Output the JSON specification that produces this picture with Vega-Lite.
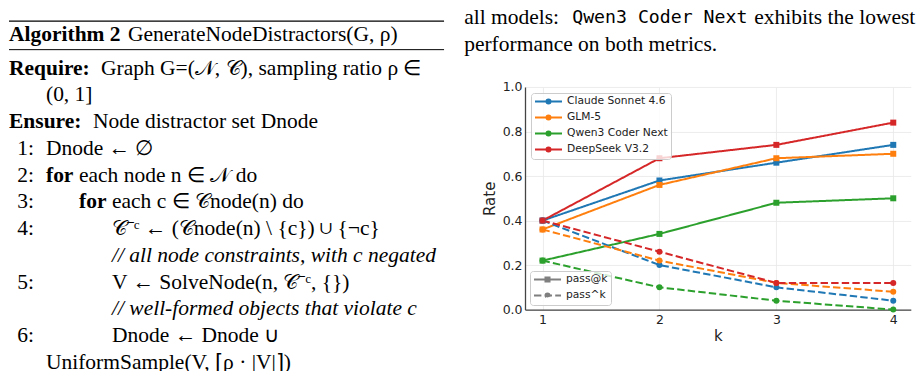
{
  "$schema": "https://vega.github.io/schema/vega-lite/v6.json",
  "padding": {"left": 8, "top": 7, "right": 5, "bottom": 0},
  "bounds": "flush",
  "spacing": 76,
  "resolve": {"legend": {"color": "independent", "strokeDash": "independent"}},
  "config": {"view": {"stroke": null}, "text": {"font": "Liberation Serif", "fontSize": 21.5, "color": "#000"}},
  "hconcat": [
    {
      "width": 440,
      "height": 222.6,
      "data": {"values": [
        {"row": 0, "kind": "header", "lead": "Algorithm 2", "text": "GenerateNodeDistractors(G, ρ)"},
        {"row": 1, "kind": "require", "lead": "Require:", "text": "Graph G=(𝒩, 𝒞), sampling ratio ρ ∈"},
        {"row": 2, "kind": "cont", "depth": 1, "text": "(0, 1]"},
        {"row": 3, "kind": "ensure", "lead": "Ensure:", "text": "Node distractor set Dnode"},
        {"row": 4, "kind": "step", "num": "1:", "depth": 1, "text": "Dnode ← ∅"},
        {"row": 5, "kind": "loop", "num": "2:", "depth": 1, "lead": "for", "text": "each node n ∈ 𝒩 do"},
        {"row": 6, "kind": "loop", "num": "3:", "depth": 2, "lead": "for", "text": "each c ∈ 𝒞node(n) do"},
        {"row": 7, "kind": "step", "num": "4:", "depth": 3, "text": "𝒞⁻ᶜ ← (𝒞node(n) \\ {c}) ∪ {¬c}"},
        {"row": 8, "kind": "comment", "depth": 3, "text": "// all node constraints, with c negated"},
        {"row": 9, "kind": "step", "num": "5:", "depth": 3, "text": "V ← SolveNode(n, 𝒞⁻ᶜ, {})"},
        {"row": 10, "kind": "comment", "depth": 3, "text": "// well-formed objects that violate c"},
        {"row": 11, "kind": "step", "num": "6:", "depth": 3, "text": "Dnode ← Dnode ∪"},
        {"row": 12, "kind": "cont", "depth": 1, "text": "UniformSample(V, ⌈ρ · |V|⌉)"}
      ]},
      "layer": [
        {
          "data": {"values": [{"rule": "top"}]},
          "mark": {"type": "rule", "strokeWidth": 1.3, "color": "#000"},
          "encoding": {
            "x": {"datum": -0.12, "type": "quantitative", "scale": {"domain": [-0.12, 13.21], "nice": false, "zero": false}, "axis": null},
            "x2": {"datum": 13.06},
            "y": {"datum": -0.776, "type": "quantitative", "scale": {"domain": [1.687, 10.007], "reverse": true, "nice": false, "zero": false}, "axis": null}
          }
        },
        {
          "data": {"values": [{"rule": "mid"}]},
          "mark": {"type": "rule", "strokeWidth": 1, "color": "#000"},
          "encoding": {
            "x": {"datum": -0.12, "type": "quantitative", "scale": {"domain": [-0.12, 13.21], "nice": false, "zero": false}, "axis": null},
            "x2": {"datum": 13.06},
            "y": {"datum": 0.291, "type": "quantitative", "scale": {"domain": [1.687, 10.007], "reverse": true, "nice": false, "zero": false}, "axis": null}
          }
        },
        {
          "transform": [{"filter": "datum.kind === 'header'"}],
          "mark": {"type": "text", "align": "left", "baseline": "middle", "fontWeight": "bold", "dy": -6.5},
          "encoding": {
            "x": {"datum": -0.12, "type": "quantitative", "scale": {"domain": [-0.12, 13.21], "nice": false, "zero": false}, "axis": null},
            "y": {"field": "row", "type": "quantitative", "scale": {"domain": [1.687, 10.007], "reverse": true, "nice": false, "zero": false}, "axis": null},
            "text": {"field": "lead"}
          }
        },
        {
          "transform": [{"filter": "datum.kind === 'header'"}],
          "mark": {"type": "text", "align": "left", "baseline": "middle", "dx": 119, "dy": -6.5},
          "encoding": {
            "x": {"datum": -0.12, "type": "quantitative", "scale": {"domain": [-0.12, 13.21], "nice": false, "zero": false}, "axis": null},
            "y": {"field": "row", "type": "quantitative", "scale": {"domain": [1.687, 10.007], "reverse": true, "nice": false, "zero": false}, "axis": null},
            "text": {"field": "text"}
          }
        },
        {
          "transform": [{"filter": "datum.kind === 'require' || datum.kind === 'ensure'"}],
          "mark": {"type": "text", "align": "left", "baseline": "middle", "fontWeight": "bold"},
          "encoding": {
            "x": {"datum": -0.12, "type": "quantitative", "scale": {"domain": [-0.12, 13.21], "nice": false, "zero": false}, "axis": null},
            "y": {"field": "row", "type": "quantitative", "scale": {"domain": [1.687, 10.007], "reverse": true, "nice": false, "zero": false}, "axis": null},
            "text": {"field": "lead"}
          }
        },
        {
          "transform": [{"filter": "datum.kind === 'require'"}],
          "mark": {"type": "text", "align": "left", "baseline": "middle", "dx": 92},
          "encoding": {
            "x": {"datum": -0.12, "type": "quantitative", "scale": {"domain": [-0.12, 13.21], "nice": false, "zero": false}, "axis": null},
            "y": {"field": "row", "type": "quantitative", "scale": {"domain": [1.687, 10.007], "reverse": true, "nice": false, "zero": false}, "axis": null},
            "text": {"field": "text"}
          }
        },
        {
          "transform": [{"filter": "datum.kind === 'ensure'"}],
          "mark": {"type": "text", "align": "left", "baseline": "middle", "dx": 84},
          "encoding": {
            "x": {"datum": -0.12, "type": "quantitative", "scale": {"domain": [-0.12, 13.21], "nice": false, "zero": false}, "axis": null},
            "y": {"field": "row", "type": "quantitative", "scale": {"domain": [1.687, 10.007], "reverse": true, "nice": false, "zero": false}, "axis": null},
            "text": {"field": "text"}
          }
        },
        {
          "transform": [{"filter": "datum.num"}],
          "mark": {"type": "text", "align": "right", "baseline": "middle"},
          "encoding": {
            "x": {"datum": 0.64, "type": "quantitative", "scale": {"domain": [-0.12, 13.21], "nice": false, "zero": false}, "axis": null},
            "y": {"field": "row", "type": "quantitative", "scale": {"domain": [1.687, 10.007], "reverse": true, "nice": false, "zero": false}, "axis": null},
            "text": {"field": "num"}
          }
        },
        {
          "transform": [{"filter": "datum.kind === 'loop'"}],
          "mark": {"type": "text", "align": "left", "baseline": "middle", "fontWeight": "bold"},
          "encoding": {
            "x": {"field": "depth", "type": "quantitative", "scale": {"domain": [-0.12, 13.21], "nice": false, "zero": false}, "axis": null},
            "y": {"field": "row", "type": "quantitative", "scale": {"domain": [1.687, 10.007], "reverse": true, "nice": false, "zero": false}, "axis": null},
            "text": {"field": "lead"}
          }
        },
        {
          "transform": [{"filter": "datum.kind === 'loop'"}],
          "mark": {"type": "text", "align": "left", "baseline": "middle", "dx": 33},
          "encoding": {
            "x": {"field": "depth", "type": "quantitative", "scale": {"domain": [-0.12, 13.21], "nice": false, "zero": false}, "axis": null},
            "y": {"field": "row", "type": "quantitative", "scale": {"domain": [1.687, 10.007], "reverse": true, "nice": false, "zero": false}, "axis": null},
            "text": {"field": "text"}
          }
        },
        {
          "transform": [{"filter": "datum.kind === 'step' || datum.kind === 'cont'"}],
          "mark": {"type": "text", "align": "left", "baseline": "middle"},
          "encoding": {
            "x": {"field": "depth", "type": "quantitative", "scale": {"domain": [-0.12, 13.21], "nice": false, "zero": false}, "axis": null},
            "y": {"field": "row", "type": "quantitative", "scale": {"domain": [1.687, 10.007], "reverse": true, "nice": false, "zero": false}, "axis": null},
            "text": {"field": "text"}
          }
        },
        {
          "transform": [{"filter": "datum.kind === 'comment'"}],
          "mark": {"type": "text", "align": "left", "baseline": "middle", "fontStyle": "italic"},
          "encoding": {
            "x": {"field": "depth", "type": "quantitative", "scale": {"domain": [-0.12, 13.21], "nice": false, "zero": false}, "axis": null},
            "y": {"field": "row", "type": "quantitative", "scale": {"domain": [1.687, 10.007], "reverse": true, "nice": false, "zero": false}, "axis": null},
            "text": {"field": "text"}
          }
        },
        {
          "data": {"values": [{"line": 1}]},
          "mark": {"type": "text", "align": "left", "baseline": "middle"},
          "encoding": {
            "x": {"datum": 13.67, "type": "quantitative", "scale": {"domain": [-0.12, 13.21], "nice": false, "zero": false}, "axis": null},
            "y": {"datum": -0.877, "type": "quantitative", "scale": {"domain": [1.687, 10.007], "reverse": true, "nice": false, "zero": false}, "axis": null},
            "text": {"value": "all models:"}
          }
        },
        {
          "data": {"values": [{"line": 1}]},
          "mark": {"type": "text", "align": "left", "baseline": "middle", "dx": 108, "font": "DejaVu Sans Mono", "fontSize": 18.2},
          "encoding": {
            "x": {"datum": 13.67, "type": "quantitative", "scale": {"domain": [-0.12, 13.21], "nice": false, "zero": false}, "axis": null},
            "y": {"datum": -0.877, "type": "quantitative", "scale": {"domain": [1.687, 10.007], "reverse": true, "nice": false, "zero": false}, "axis": null},
            "text": {"value": "Qwen3 Coder Next"}
          }
        },
        {
          "data": {"values": [{"line": 1}]},
          "mark": {"type": "text", "align": "left", "baseline": "middle", "dx": 290},
          "encoding": {
            "x": {"datum": 13.67, "type": "quantitative", "scale": {"domain": [-0.12, 13.21], "nice": false, "zero": false}, "axis": null},
            "y": {"datum": -0.877, "type": "quantitative", "scale": {"domain": [1.687, 10.007], "reverse": true, "nice": false, "zero": false}, "axis": null},
            "text": {"value": "exhibits the lowest"}
          }
        },
        {
          "data": {"values": [{"line": 2}]},
          "mark": {"type": "text", "align": "left", "baseline": "middle"},
          "encoding": {
            "x": {"datum": 13.67, "type": "quantitative", "scale": {"domain": [-0.12, 13.21], "nice": false, "zero": false}, "axis": null},
            "y": {"datum": 0.112, "type": "quantitative", "scale": {"domain": [1.687, 10.007], "reverse": true, "nice": false, "zero": false}, "axis": null},
            "text": {"value": "performance on both metrics."}
          }
        }
      ]
    },
    {
      "width": 385.8,
      "height": 222.6,
      "data": {"values": [
        {"k": 1, "model": "Claude Sonnet 4.6", "metric": "pass@k", "rate": 0.40},
        {"k": 2, "model": "Claude Sonnet 4.6", "metric": "pass@k", "rate": 0.58},
        {"k": 3, "model": "Claude Sonnet 4.6", "metric": "pass@k", "rate": 0.66},
        {"k": 4, "model": "Claude Sonnet 4.6", "metric": "pass@k", "rate": 0.74},
        {"k": 1, "model": "GLM-5", "metric": "pass@k", "rate": 0.36},
        {"k": 2, "model": "GLM-5", "metric": "pass@k", "rate": 0.56},
        {"k": 3, "model": "GLM-5", "metric": "pass@k", "rate": 0.68},
        {"k": 4, "model": "GLM-5", "metric": "pass@k", "rate": 0.70},
        {"k": 1, "model": "Qwen3 Coder Next", "metric": "pass@k", "rate": 0.22},
        {"k": 2, "model": "Qwen3 Coder Next", "metric": "pass@k", "rate": 0.34},
        {"k": 3, "model": "Qwen3 Coder Next", "metric": "pass@k", "rate": 0.48},
        {"k": 4, "model": "Qwen3 Coder Next", "metric": "pass@k", "rate": 0.50},
        {"k": 1, "model": "DeepSeek V3.2", "metric": "pass@k", "rate": 0.40},
        {"k": 2, "model": "DeepSeek V3.2", "metric": "pass@k", "rate": 0.68},
        {"k": 3, "model": "DeepSeek V3.2", "metric": "pass@k", "rate": 0.74},
        {"k": 4, "model": "DeepSeek V3.2", "metric": "pass@k", "rate": 0.84},
        {"k": 1, "model": "Claude Sonnet 4.6", "metric": "pass^k", "rate": 0.40},
        {"k": 2, "model": "Claude Sonnet 4.6", "metric": "pass^k", "rate": 0.20},
        {"k": 3, "model": "Claude Sonnet 4.6", "metric": "pass^k", "rate": 0.10},
        {"k": 4, "model": "Claude Sonnet 4.6", "metric": "pass^k", "rate": 0.04},
        {"k": 1, "model": "GLM-5", "metric": "pass^k", "rate": 0.36},
        {"k": 2, "model": "GLM-5", "metric": "pass^k", "rate": 0.22},
        {"k": 3, "model": "GLM-5", "metric": "pass^k", "rate": 0.12},
        {"k": 4, "model": "GLM-5", "metric": "pass^k", "rate": 0.08},
        {"k": 1, "model": "Qwen3 Coder Next", "metric": "pass^k", "rate": 0.22},
        {"k": 2, "model": "Qwen3 Coder Next", "metric": "pass^k", "rate": 0.10},
        {"k": 3, "model": "Qwen3 Coder Next", "metric": "pass^k", "rate": 0.04},
        {"k": 4, "model": "Qwen3 Coder Next", "metric": "pass^k", "rate": 0.00},
        {"k": 1, "model": "DeepSeek V3.2", "metric": "pass^k", "rate": 0.40},
        {"k": 2, "model": "DeepSeek V3.2", "metric": "pass^k", "rate": 0.26},
        {"k": 3, "model": "DeepSeek V3.2", "metric": "pass^k", "rate": 0.12},
        {"k": 4, "model": "DeepSeek V3.2", "metric": "pass^k", "rate": 0.12}
      ]},
      "encoding": {
        "x": {"field": "k", "type": "quantitative", "scale": {"domain": [0.85, 4.15], "nice": false, "zero": false},
          "axis": {"values": [1, 2, 3, 4], "format": "d", "title": "k", "grid": true, "gridColor": "#e8e8e8", "gridWidth": 0.8, "ticks": false, "domainColor": "#444", "domainWidth": 1.3, "labelFont": "DejaVu Sans", "labelFontSize": 12.5, "labelColor": "#222", "labelPadding": 4, "titleFont": "DejaVu Sans", "titleFontSize": 15, "titleFontWeight": "normal", "titleColor": "#222", "titlePadding": 2}},
        "y": {"field": "rate", "type": "quantitative", "scale": {"domain": [0, 1], "nice": false},
          "axis": {"values": [0, 0.2, 0.4, 0.6, 0.8, 1.0], "format": ".1f", "title": "Rate", "grid": true, "gridColor": "#e8e8e8", "gridWidth": 0.8, "ticks": false, "domainColor": "#444", "domainWidth": 1.3, "labelFont": "DejaVu Sans", "labelFontSize": 12.5, "labelColor": "#222", "labelPadding": 3, "titleFont": "DejaVu Sans", "titleFontSize": 15, "titleFontWeight": "normal", "titleColor": "#222", "titlePadding": 5}},
        "color": {"field": "model", "type": "nominal",
          "scale": {"domain": ["Claude Sonnet 4.6", "GLM-5", "Qwen3 Coder Next", "DeepSeek V3.2"], "range": ["#1f77b4", "#ff7f0e", "#2ca02c", "#d62728"]},
          "legend": {"orient": "top-left", "offset": 6, "title": null, "fillColor": "rgba(255,255,255,0.8)", "strokeColor": "#cccccc", "cornerRadius": 3, "padding": 3,
            "labelFont": "DejaVu Sans", "labelFontSize": 10.7, "labelColor": "#222", "labelOffset": 13, "symbolOffset": 9,
            "symbolType": "M-3,0H3M-0.45,0A0.45,0.45,0,1,1,0.45,0A0.45,0.45,0,1,1,-0.45,0Z", "symbolSize": 81, "symbolStrokeWidth": 2, "rowPadding": 3,
            "encode": {"symbols": {"update": {"fill": {"scale": "color", "field": "value"}, "stroke": {"scale": "color", "field": "value"}, "opacity": {"value": 1}}}}}}
      },
      "layer": [
        {
          "mark": {"type": "line", "strokeWidth": 2},
          "encoding": {
            "strokeDash": {"field": "metric", "type": "nominal", "scale": {"domain": ["pass@k", "pass^k"], "range": [[1, 0], [7.4, 3.2]]},
              "legend": {"orient": "bottom-left", "offset": 5, "title": null, "fillColor": "rgba(255,255,255,0.8)", "strokeColor": "#cccccc", "cornerRadius": 3, "padding": 3,
                "labelFont": "DejaVu Sans", "labelFontSize": 10.7, "labelColor": "#222", "labelOffset": 13, "symbolOffset": 9,
                "symbolType": "M-3,0H3M-0.45,0A0.45,0.45,0,1,1,0.45,0A0.45,0.45,0,1,1,-0.45,0Z", "symbolSize": 81, "symbolStrokeWidth": 2, "rowPadding": 3,
                "encode": {"symbols": {"update": {
                  "shape": {"signal": "datum.value === 'pass@k' ? 'M-3,0H3M-0.45,-0.45H0.45V0.45H-0.45Z' : 'M-3,0H3M-0.45,0A0.45,0.45,0,1,1,0.45,0A0.45,0.45,0,1,1,-0.45,0Z'"},
                  "fill": {"value": "#7f7f7f"}, "stroke": {"value": "#7f7f7f"}, "opacity": {"value": 1}}}}}},
            "detail": {"field": "metric"}
          }
        },
        {
          "transform": [{"filter": "datum.metric === 'pass@k'"}],
          "mark": {"type": "point", "shape": "square", "filled": true, "size": 36, "opacity": 1}
        },
        {
          "transform": [{"filter": "datum.metric === 'pass^k'"}],
          "mark": {"type": "point", "shape": "circle", "filled": true, "size": 36, "opacity": 1}
        }
      ]
    }
  ]
}
